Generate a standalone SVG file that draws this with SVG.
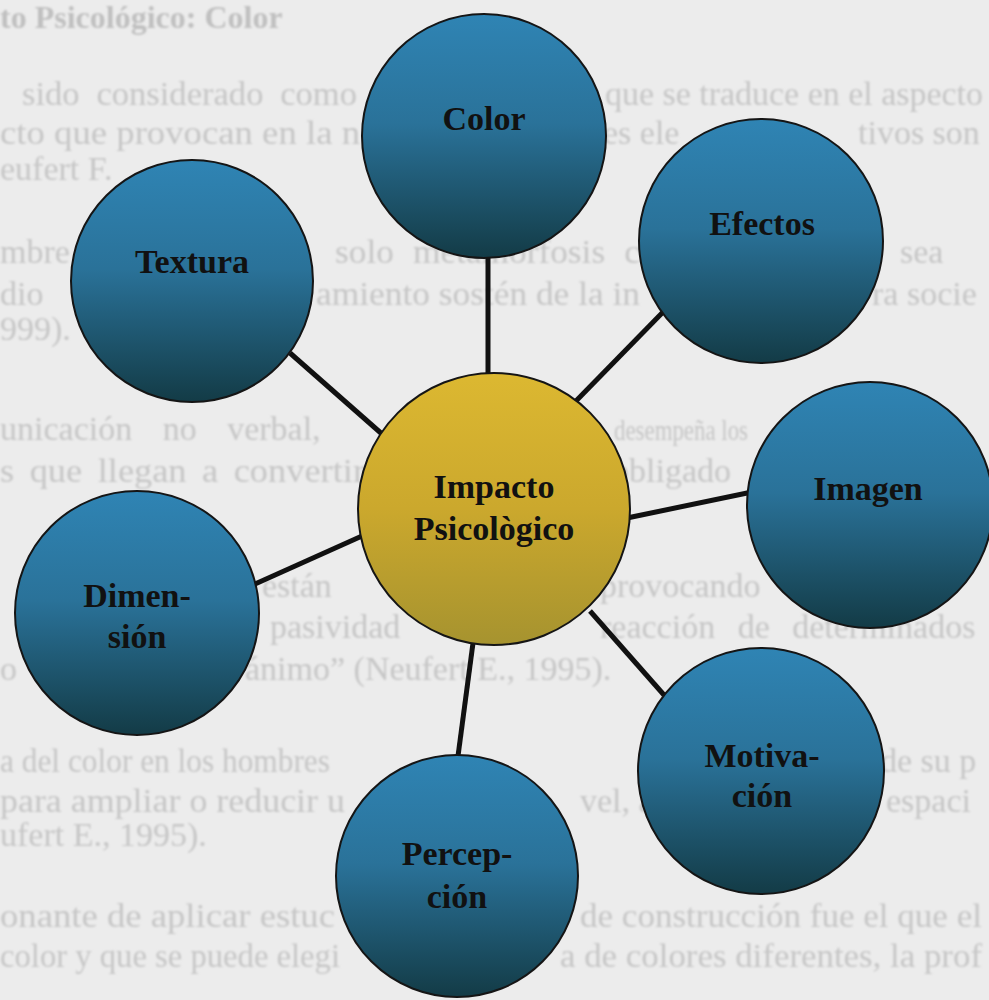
<svg xmlns="http://www.w3.org/2000/svg" width="989" height="1000" viewBox="0 0 989 1000">
<style>
.bg{font-family:"Liberation Serif",serif;font-size:34px;fill:#c6c6c6}
.lbl{font-family:"Liberation Serif",serif;font-size:34px;font-weight:bold;fill:#111;text-anchor:middle}
.sat{stroke:#151515;stroke-width:2;fill:url(#blue)}
.hub{stroke:#151515;stroke-width:2;fill:url(#gold)}
.con line{stroke:#111;stroke-width:5}
</style>
<defs>
<linearGradient id="blue" x1="0" y1="0" x2="0" y2="1">
<stop offset="0" stop-color="#2f84b4"/>
<stop offset="0.45" stop-color="#2a7299"/>
<stop offset="1" stop-color="#133b46"/>
</linearGradient>
<linearGradient id="gold" x1="0" y1="0" x2="0" y2="1">
<stop offset="0" stop-color="#dcb831"/>
<stop offset="0.5" stop-color="#cba82d"/>
<stop offset="1" stop-color="#a6932f"/>
</linearGradient>
<filter id="soft"><feGaussianBlur stdDeviation="0.9"/></filter>
</defs>
<rect width="989" height="1000" fill="#ececec"/>
<g id="page-text" class="bg" filter="url(#soft)">
<text x="0" y="28" font-weight="bold" fill="#c0c0c0" font-size="32">to Psicológico: Color</text>
<text x="22" y="105" textLength="335" lengthAdjust="spacingAndGlyphs" word-spacing="8">sido considerado como</text>
<text x="605" y="105" textLength="378" lengthAdjust="spacingAndGlyphs">que se traduce en el aspecto</text>
<text x="0" y="144" textLength="360" lengthAdjust="spacingAndGlyphs">cto que provocan en la n</text>
<text x="603" y="144">es ele</text>
<text x="858" y="144">tivos son</text>
<text x="0" y="180">eufert F.</text>
<text x="0" y="263">mbre</text>
<text x="335" y="263" textLength="305" lengthAdjust="spacingAndGlyphs" word-spacing="10">solo metamorfosis c</text>
<text x="900" y="263">sea</text>
<text x="0" y="305">dio</text>
<text x="316" y="305" textLength="324" lengthAdjust="spacingAndGlyphs">amiento sostén de la in</text>
<text x="872" y="305">ra socie</text>
<text x="0" y="340">999).</text>
<text x="0" y="440" word-spacing="22">unicación no verbal,</text>
<text x="614" y="440" font-size="30" textLength="134" lengthAdjust="spacingAndGlyphs">desempeña los</text>
<text x="0" y="482" textLength="365" lengthAdjust="spacingAndGlyphs" word-spacing="6">s que llegan a convertir</text>
<text x="612" y="482">obligado</text>
<text x="262" y="597">están</text>
<text x="600" y="597">provocando</text>
<text x="270" y="638">pasividad</text>
<text x="600" y="638" word-spacing="14">reacción de determinados</text>
<text x="0" y="680">o</text>
<text x="245" y="680">ánimo” (Neufert E., 1995).</text>
<text x="0" y="772" textLength="330" lengthAdjust="spacingAndGlyphs">a del color en los hombres</text>
<text x="880" y="772">de su p</text>
<text x="0" y="812" textLength="345" lengthAdjust="spacingAndGlyphs">para ampliar o reducir u</text>
<text x="580" y="812">vel, a</text>
<text x="886" y="812">espaci</text>
<text x="0" y="846">ufert E., 1995).</text>
<text x="0" y="927" textLength="335" lengthAdjust="spacingAndGlyphs">onante de aplicar estuc</text>
<text x="580" y="927" textLength="402" lengthAdjust="spacingAndGlyphs">de construcción fue el que el</text>
<text x="0" y="967" textLength="340" lengthAdjust="spacingAndGlyphs">color y que se puede elegi</text>
<text x="560" y="967" textLength="422" lengthAdjust="spacingAndGlyphs">a de colores diferentes, la prof</text>
</g>
<g id="connectors" class="con">
<line x1="488" y1="258" x2="488" y2="376"/>
<line x1="290" y1="353" x2="382" y2="434"/>
<line x1="664" y1="311" x2="575" y2="402"/>
<line x1="752" y1="492" x2="627" y2="518"/>
<line x1="255" y1="584" x2="362" y2="536"/>
<line x1="590" y1="611" x2="664" y2="695"/>
<line x1="473" y1="643" x2="458" y2="756"/>
</g>
<g id="node-color"><circle class="sat" cx="484" cy="136" r="122"/><text class="lbl" x="484" y="130">Color</text></g>
<g id="node-textura"><circle class="sat" cx="192" cy="281" r="121"/><text class="lbl" x="192" y="273">Textura</text></g>
<g id="node-efectos"><circle class="sat" cx="761" cy="241" r="122"/><text class="lbl" x="762" y="235">Efectos</text></g>
<g id="node-imagen"><circle class="sat" cx="870" cy="505" r="123"/><text class="lbl" x="868" y="500">Imagen</text></g>
<g id="node-dimension"><circle class="sat" cx="137" cy="613" r="122"/><text class="lbl" x="137" y="607">Dimen-</text><text class="lbl" x="137" y="648">sión</text></g>
<g id="node-motivacion"><circle class="sat" cx="761" cy="771" r="123"/><text class="lbl" x="762" y="767">Motiva-</text><text class="lbl" x="762" y="807">ción</text></g>
<g id="node-percepcion"><circle class="sat" cx="457" cy="876" r="121"/><text class="lbl" x="457" y="865">Percep-</text><text class="lbl" x="457" y="908">ción</text></g>
<g id="node-impacto"><circle class="hub" cx="494" cy="509" r="136"/><text class="lbl" x="494" y="498">Impacto</text><text class="lbl" x="494" y="540">Psicològico</text></g>
</svg>
